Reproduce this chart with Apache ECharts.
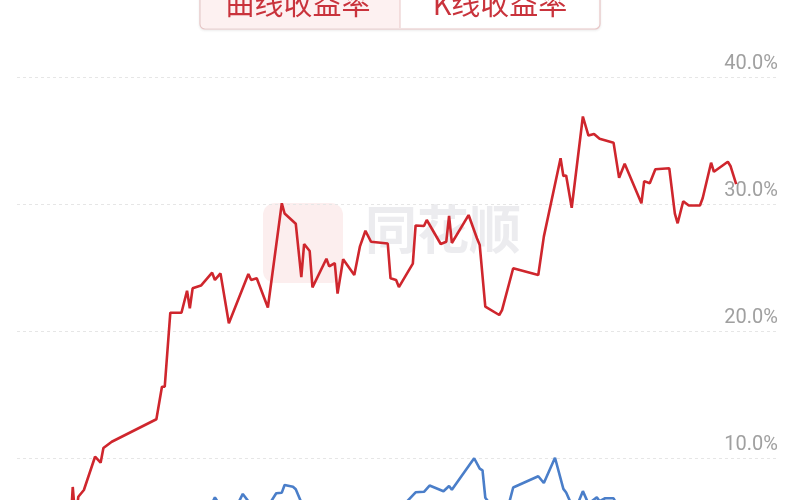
<!DOCTYPE html>
<html>
<head>
<meta charset="utf-8">
<script src="https://cdn.jsdelivr.net/npm/echarts@6/dist/echarts.min.js"></script>
<style>html,body{margin:0;padding:0;background:#fff}#c{width:800px;height:500px}</style>
</head>
<body>
<div id="c"></div>
<script>
// trading-day index, cumulative return (%)
var curveDays = [0,2,3,4,6,10,12,13,16,32,34,35,37,41,43,44,45,48,52,53,55,58,65,66,68,72,77,78,82,84,85,87,88,93,94,96,97,99,103,105,107,109,115,116,118,119,124,125,128,129,134,136,137,138,144,147,148,150,155,156,160,169,171,177,178,179,181,185,187,189,191,196,198,200,206,207,209,211,216,218,219,221,223,227,228,231,232,237,238,240];
var curveReturn = [0,7.72,5.1,6.95,7.48,10.10,9.63,10.79,11.28,13.05,15.61,15.61,21.44,21.44,23.17,21.79,23.36,23.58,24.59,24.02,24.54,20.61,24.49,24.02,24.15,21.85,30.06,29.25,28.45,24.25,26.85,26.30,23.44,25.69,25.09,25.35,22.94,25.65,24.41,26.64,27.89,27.03,26.89,24.15,24.02,23.46,25.30,28.31,28.27,28.74,26.85,27.03,29.06,26.93,29.13,27.30,26.77,21.91,21.26,21.65,24.94,24.41,27.43,33.60,32.20,32.24,29.70,36.89,35.39,35.51,35.13,34.83,32.06,33.17,30.06,31.80,31.63,32.74,32.81,29.24,28.48,30.22,29.88,29.88,30.47,33.25,32.54,33.33,32.97,31.56];
var kDays = [0,10,20,35,45,51,53,55,61,63,66,70,75,77,78,81,82,84,90,100,110,122,125,128,130,135,137,138,146,148,149,150,152,158,160,169,171,175,178,179,181,183,185,187,190,191,193,196,198,205,215,225,240];
var kReturn = [0,2.5,4.0,3.0,5.0,6.0,6.9,6.2,6.3,7.17,6.3,5.5,7.22,7.27,7.87,7.74,7.54,6.5,5.5,5.0,5.8,6.6,7.30,7.34,7.83,7.38,7.80,7.50,9.98,9.17,9.03,6.87,6.3,6.0,7.68,8.56,8.03,10.02,7.57,7.28,6.3,6.3,7.39,6.4,6.9,6.6,6.83,6.83,6.0,5.0,4.5,5.5,5.0];
var yTicks = [0,10,20,30,40];

function pairs(xs, ys){ return xs.map(function(x,i){ return [x, ys[i]]; }); }

var chart = echarts.init(document.getElementById('c'), null, {renderer:'canvas'});
chart.setOption({
  animation:false,
  backgroundColor:'#fff',
  grid:{left:17, right:22, top:77, height:508, outerBoundsMode:'none', containLabel:false},
  xAxis:{type:'value', min:-18, max:255, show:false},
  yAxis:{
    type:'value', position:'right', min:yTicks[0], max:yTicks[yTicks.length-1], interval:10,
    axisLine:{show:false}, axisTick:{show:false},
    axisLabel:{inside:true, verticalAlign:'bottom', margin:0, padding:[0,0,3,0],
      color:'#a0a0a0', fontSize:20, fontFamily:'Roboto, Arial, sans-serif',
      formatter:function(v){ return v.toFixed(1)+'%'; }},
    splitLine:{lineStyle:{color:'#e6e6e6', type:[3,3], width:1}}
  },
  graphic:[
    {type:'rect', shape:{x:263,y:203,width:80,height:80,r:12}, style:{fill:'rgba(235,120,120,0.13)'}, z:0, silent:true},
    {type:'text', left:365, top:203, style:{text:'同花顺', font:'bold 52px "Noto Sans CJK SC", sans-serif', fill:'rgba(180,180,190,0.25)'}, z:0, silent:true},
    {type:'rect', shape:{x:200,y:-12,width:400,height:41,r:5}, style:{fill:'#fff', stroke:'#e8c6c6', lineWidth:1.2, shadowBlur:3, shadowColor:'rgba(0,0,0,0.08)', shadowOffsetY:1}, z:10},
    {type:'rect', shape:{x:201,y:-11,width:199,height:39,r:[0,0,0,4]}, style:{fill:'#fdf1f1'}, z:11},
    {type:'line', shape:{x1:400,y1:-11,x2:400,y2:28}, style:{stroke:'#e8c6c6', lineWidth:1}, z:12},
    {type:'text', x:298, y:4, style:{text:'曲线收益率', font:'29px "Noto Sans CJK SC", sans-serif', fill:'#c9333c', align:'center', verticalAlign:'middle'}, z:13},
    {type:'text', x:500, y:4, style:{text:'K线收益率', font:'29px "Noto Sans CJK SC", sans-serif', fill:'#c9333c', align:'center', verticalAlign:'middle'}, z:13}
  ],
  series:[
    {type:'line', name:'K线收益率', data:pairs(kDays,kReturn), showSymbol:false, lineStyle:{color:'#4a7ec9', width:2.6}, z:3},
    {type:'line', name:'曲线收益率', data:pairs(curveDays,curveReturn), showSymbol:false, lineStyle:{color:'#cf262d', width:2.6}, z:4}
  ]
});
</script>
</body>
</html>
